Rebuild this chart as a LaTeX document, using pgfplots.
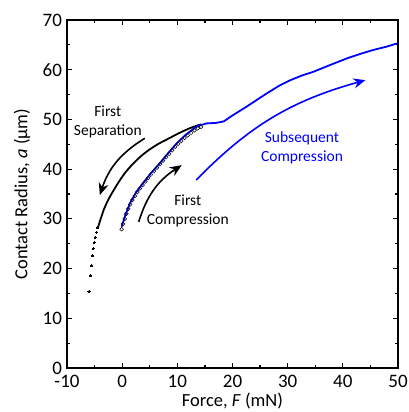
\documentclass[border=0pt]{standalone}
\usepackage{pgfplots}
\pgfplotsset{compat=1.18}
\usepackage{fontspec}
\setmainfont{Carlito}
\usetikzlibrary{arrows.meta}
\begin{document}
\begin{tikzpicture}
\path[use as bounding box] (-67pt,-44pt) rectangle (342pt,368pt);
\begin{axis}[at={(0pt,0pt)}, anchor=south west, scale only axis,
  width=331pt, height=348pt,
  xmin=-10, xmax=50, ymin=0, ymax=70,
  line width=1.4pt,
  xtick={-10,0,10,20,30,40,50}, xticklabels={-10,0,10,20,30,40,50},
  ytick={0,10,20,30,40,50,60,70}, yticklabels={0,10,20,30,40,50,60,70},
  minor x tick num=1, minor y tick num=1,
  tick align=inside, major tick length=5pt, minor tick length=3pt,
  tick style={black, line width=1.2pt},
  ticklabel style={font=\fontsize{19}{22}\selectfont},
  xticklabel style={yshift=-3pt},
  yticklabel style={xshift=-1pt},
  xlabel={Force, \textit{F} (mN)},
  ylabel={Contact Radius, \textit{a} (µm)},
  label style={font=\fontsize{18.5}{22}\selectfont},
  xlabel style={at={(axis description cs:0.5,-0.096)}, anchor=center},
  ylabel style={at={(axis description cs:-0.136,0.5)}, anchor=center},
  clip=false,
]
% First separation: sparse dots
\addplot[only marks, mark=*, mark size=1.1pt, black, mark options={line width=0pt}] coordinates {
(-6.0,15.4) (-5.75,18.6) (-5.57,20.6) (-5.4,22.6) (-5.25,24.0) (-5.08,25.2)
(-4.88,26.3) (-4.65,27.3) (-4.4,28.2)
};
% First separation: dense part
\addplot[black, line width=1.8pt, smooth] coordinates {
(-4.4,28.2) (-4.15,29.1) (-3.9,30.0) (-3.62,30.9) (-3.35,31.8) (-2.8,33.2)
(-2.2,34.5) (-1.3,36.2) (-0.4,37.8) (0.7,39.5) (1.9,41.0) (3.4,42.6)
(4.9,43.9) (6.6,45.1) (8.5,46.2) (10.4,47.3) (12.2,48.2) (13.4,48.7) (14.3,49.0)
};
% First compression: open circles
\addplot[only marks, mark=o, mark size=1.9pt, black, mark options={line width=0.5pt}] coordinates {
(-0.1,27.9) (0.15,29.0) (0.45,30.0) (0.75,31.0) (1.1,32.0) (1.45,32.9)
(1.85,33.8) (2.3,34.6) (2.75,35.4) (3.2,36.1) (3.7,36.8) (4.2,37.5)
(4.7,38.2) (5.2,38.9) (5.75,39.6) (6.3,40.3) (6.85,41.0) (7.4,41.7)
(7.95,42.4) (8.5,43.1) (9.05,43.8) (9.6,44.5) (10.15,45.1) (10.7,45.7)
(11.3,46.3) (11.9,46.8) (12.5,47.3) (13.1,47.8) (13.7,48.2) (14.3,48.5)
};
% Compression (blue)
\addplot[blue, line width=1.8pt] coordinates {
(-0.1,28.4) (0.5,30.5) (1.4,33.1) (2.5,35.3) (3.8,37.2) (5.3,39.3)
(6.85,41.2) (8.4,43.3) (9.9,45.2) (11.5,46.9) (13.5,48.6) (15.3,49.2)
(17.0,49.3) (18.4,49.6) (20.0,50.8) (22.6,52.6) (24.5,54.0) (26.3,55.3)
(28.5,56.8) (30.5,57.9) (32.5,58.8) (34.7,59.6) (37.8,61.0) (40.8,62.3)
(43.2,63.2) (45.6,64.0) (47.8,64.6) (49.9,65.3)
};
% Annotations
\node[font=\fontsize{15.5}{19}\selectfont, align=center] at (axis cs:-2.6,49.4) {First\\Separation};
\node[font=\fontsize{15.5}{19}\selectfont, align=center] at (axis cs:11.9,31.55) {First\\Compression};
\node[font=\fontsize{15.5}{19}\selectfont, align=center, text=blue] at (axis cs:32.6,44.35) {Subsequent\\Compression};
\draw[black, line width=1.6pt, -{Stealth[length=12pt,width=10pt]}] (axis cs:4.1,46.2) to[bend right=20] (axis cs:-4.05,34.8);
\draw[black, line width=1.6pt, -{Stealth[length=12pt,width=10pt]}] (axis cs:3.0,29.4) to[bend left=20] (axis cs:10.8,40.8);
\draw[blue, line width=1.6pt, -{Stealth[length=12pt,width=10pt]}] (axis cs:13.4,37.8) to[bend left=15] (axis cs:44.1,57.9);
\end{axis}
\end{tikzpicture}
\end{document}
